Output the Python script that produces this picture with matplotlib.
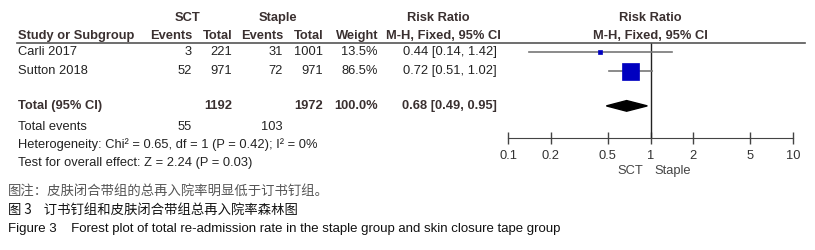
import matplotlib
matplotlib.use("Agg")
import matplotlib.pyplot as plt
from matplotlib.lines import Line2D

# --- data ---
studies = ["Carli 2017", "Sutton 2018"]
sct_events = [3, 52]
sct_total = [221, 971]
staple_events = [31, 72]
staple_total = [1001, 971]
weights = [13.5, 86.5]
rr = [0.44, 0.72]
ci_low = [0.14, 0.51]
ci_high = [1.42, 1.02]

total_sct, total_staple = 1192, 1972
total_rr, total_low, total_high = 0.68, 0.49, 0.95
events_sct, events_staple = 55, 103
heterogeneity = "Heterogeneity: Chi\u00b2 = 0.65, df = 1 (P = 0.42); I\u00b2 = 0%"
overall = "Test for overall effect: Z = 2.24 (P = 0.03)"

ticks = [0.1, 0.2, 0.5, 1, 2, 5, 10]
tick_labels = ["0.1", "0.2", "0.5", "1", "2", "5", "10"]

note_cn = "图注：皮肤闭合带组的总再入院率明显低于订书钉组。"
title_cn = "图 3    订书钉组和皮肤闭合带组总再入院率森林图"
title_en = "Figure 3    Forest plot of total re-admission rate in the staple group and skin closure tape group"

W, H = 815, 250
plt.rcParams["font.family"] = ["Liberation Sans", "DejaVu Sans"]
fig = plt.figure(figsize=(W / 100, H / 100), dpi=100)

FS = 9.3
TXT = "#222222"
BOLD = "#3a3030"
CJK = ["Noto Sans CJK SC", "DejaVu Sans"]


def put(x, y, s, ha="left", bold=False, **kw):
    # x, y in pixels from the top-left corner
    fig.text(x / W, 1 - y / H, s, ha=ha, va="center", fontsize=kw.pop("fontsize", FS),
             fontweight=kw.pop("fontweight", "bold" if bold else "normal"),
             color=kw.pop("color", BOLD if bold else TXT), **kw)


# headers
put(188, 18, "SCT", ha="center", bold=True)
put(278, 18, "Staple", ha="center", bold=True)
put(438, 18, "Risk Ratio", ha="center", bold=True)
put(650, 18, "Risk Ratio", ha="center", bold=True)
put(18, 36, "Study or Subgroup", bold=True)
put(192, 36, "Events", ha="right", bold=True)
put(232, 36, "Total", ha="right", bold=True)
put(283, 36, "Events", ha="right", bold=True)
put(323, 36, "Total", ha="right", bold=True)
put(378, 36, "Weight", ha="right", bold=True)
put(443, 36, "M-H, Fixed, 95% CI", ha="center", bold=True)
put(650, 36, "M-H, Fixed, 95% CI", ha="center", bold=True)

fig.add_artist(Line2D([17 / W, 805 / W], [1 - 43 / H, 1 - 43 / H], color="#555555", lw=1.2))

# study rows
row_y = [52, 71]
for i, name in enumerate(studies):
    y = row_y[i]
    put(18, y, name)
    put(192, y, str(sct_events[i]), ha="right")
    put(232, y, str(sct_total[i]), ha="right")
    put(283, y, str(staple_events[i]), ha="right")
    put(323, y, str(staple_total[i]), ha="right")
    put(378, y, f"{weights[i]:.1f}%", ha="right")
    put(497, y, f"{rr[i]:.2f} [{ci_low[i]:.2f}, {ci_high[i]:.2f}]", ha="right")

put(18, 106, "Total (95% CI)", bold=True)
put(232, 106, str(total_sct), ha="right", bold=True)
put(323, 106, str(total_staple), ha="right", bold=True)
put(378, 106, "100.0%", ha="right", bold=True)
put(497, 106, f"{total_rr:.2f} [{total_low:.2f}, {total_high:.2f}]", ha="right", bold=True)
put(18, 127, "Total events")
put(192, 127, str(events_sct), ha="right")
put(283, 127, str(events_staple), ha="right")
put(18, 145, heterogeneity)
put(18, 163, overall)

# forest panel
ax_l, ax_r, ax_t, ax_b = 508, 793, 43, 138
ax = fig.add_axes([ax_l / W, 1 - ax_b / H, (ax_r - ax_l) / W, (ax_b - ax_t) / H])
ax.set_xscale("log")
ax.set_xlim(0.1, 10)
ax.set_ylim(4.53, -0.47)
for s in ["top", "right", "left"]:
    ax.spines[s].set_visible(False)
ax.spines["bottom"].set_color("#444444")
ax.set_yticks([])
ax.set_xticks(ticks)
ax.set_xticklabels(tick_labels)
ax.minorticks_off()
ax.tick_params(axis="x", direction="inout", length=9, width=1, color="#444444",
               labelsize=FS, labelcolor="#333333", pad=4)
ax.patch.set_visible(False)
ax.axvline(1, color="#222222", lw=1)

for i in range(len(studies)):
    ax.plot([ci_low[i], ci_high[i]], [i, i], color="#777777", lw=1.2, zorder=2)
    side_px = max(4, 17 * weights[i] / max(weights))
    ax.plot(rr[i], i, marker="s", ms=side_px * 0.72, color="#0000c0", mec="#0000c0",
            mew=0.5, zorder=3)

ty = 2.84
ax.fill([total_low, total_rr, total_high, total_rr], [ty, ty - 0.28, ty, ty + 0.28],
        color="black", zorder=3)

put(630, 171, "SCT", ha="center", color="#444444")
put(673, 171, "Staple", ha="center", color="#444444")

# captions
put(8, 191, note_cn, fontsize=9.6, color="#555555", family=CJK)
put(8, 210, title_cn, fontsize=9.6, color="#111111", family=CJK, fontweight="medium")
put(8, 229, title_en, fontsize=9.5, color="#111111")

fig.savefig("out.png", dpi=100)
